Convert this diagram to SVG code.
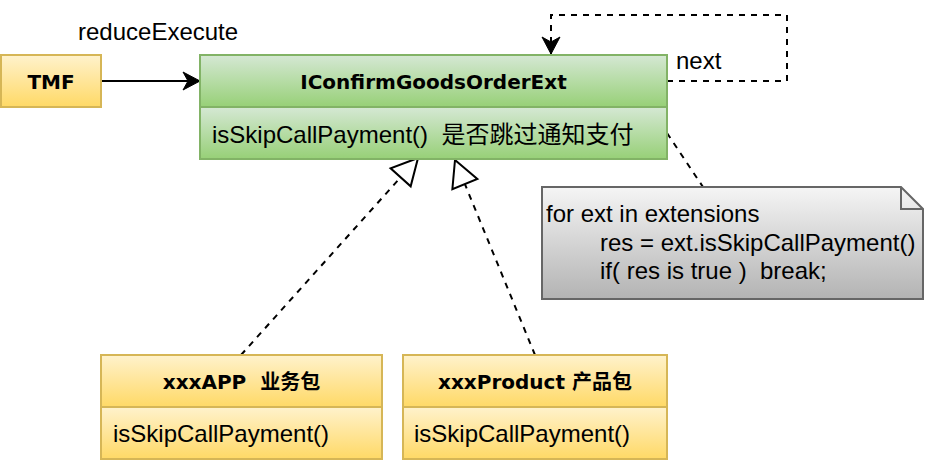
<svg xmlns="http://www.w3.org/2000/svg" width="926" height="466" viewBox="0 0 926 466">
<defs>
<linearGradient id="gGreen" x1="0" y1="0" x2="0" y2="1"><stop offset="0" stop-color="#d5e8d4"/><stop offset="1" stop-color="#97d077"/></linearGradient>
<linearGradient id="gYellow" x1="0" y1="0" x2="0" y2="1"><stop offset="0" stop-color="#fff2cc"/><stop offset="1" stop-color="#ffd966"/></linearGradient>
<linearGradient id="gGray" x1="0" y1="0" x2="0" y2="1"><stop offset="0" stop-color="#f5f5f5"/><stop offset="1" stop-color="#b3b3b3"/></linearGradient>
<marker id="arrow" markerUnits="userSpaceOnUse" viewBox="-18 -10 20 20" markerWidth="20" markerHeight="20" refX="0" refY="0" orient="auto" overflow="visible">
<path d="M0,0 L-17,-9 L-12,0 L-17,9 Z" fill="#000" stroke="#000" stroke-width="1"/>
</marker>
<marker id="tri" markerUnits="userSpaceOnUse" viewBox="-28 -15 30 30" markerWidth="30" markerHeight="30" refX="0" refY="0" orient="auto" overflow="visible">
<path d="M0,0 L-26,-13.5 L-26,13.5 Z" fill="#fff" stroke="#000" stroke-width="2"/>
</marker>
</defs>
<style>
.green{fill:url(#gGreen);stroke:#82b366;stroke-width:2}
.yellow{fill:url(#gYellow);stroke:#d6b656;stroke-width:2}
.note{fill:url(#gGray);stroke:#666666;stroke-width:2}
.b{font-family:"DejaVu Sans","Noto Sans CJK SC",sans-serif;font-weight:bold;font-size:20px;fill:#000;text-anchor:middle}
.t{font-family:"Liberation Sans","Noto Sans CJK SC",sans-serif;font-size:24px;fill:#000}
.line{fill:none;stroke:#000;stroke-width:2}
.dash{stroke-dasharray:6 6}
</style>

<g id="connectors">
<path class="line" d="M101,81 H200" marker-end="url(#arrow)"/>
<path class="line dash" d="M667,81 H787 V15 H551 V54" marker-end="url(#arrow)"/>
<path class="line dash" d="M241,355 L418,158" marker-end="url(#tri)"/>
<path class="line dash" d="M535,355 L455,160" marker-end="url(#tri)"/>
<path class="line dash" d="M667,133 L703,187"/>
<text class="t" x="78" y="40">reduceExecute</text>
<text class="t" x="676" y="69">next</text>
</g>

<g id="tmf">
<rect class="yellow" x="1" y="55" width="100" height="52"/>
<text class="b" x="51" y="89">TMF</text>
</g>

<g id="iconfirm">
<rect class="green" x="200" y="55" width="467" height="52"/>
<rect class="green" x="200" y="107" width="467" height="52"/>
<text class="b" x="433.5" y="89">IConfirmGoodsOrderExt</text>
<text class="t" x="212" y="143" xml:space="preserve">isSkipCallPayment()  是否跳过通知支付</text>
</g>

<g id="note">
<path class="note" d="M542,187 H901 L923,209 V299 H542 Z"/>
<path d="M901,187 V209 H923" fill="none" stroke="#666666" stroke-width="2"/>
<text class="t" x="546" y="222">for ext in extensions</text>
<text class="t" x="600" y="250.5">res = ext.isSkipCallPayment()</text>
<text class="t" x="600" y="279" xml:space="preserve">if( res is true )  break;</text>
</g>

<g id="xxxapp">
<rect class="yellow" x="101" y="355" width="281" height="52"/>
<rect class="yellow" x="101" y="407" width="281" height="52"/>
<text class="b" x="241.5" y="389" xml:space="preserve">xxxAPP  业务包</text>
<text class="t" x="113" y="442">isSkipCallPayment()</text>
</g>

<g id="xxxproduct">
<rect class="yellow" x="403" y="355" width="264" height="52"/>
<rect class="yellow" x="403" y="407" width="264" height="52"/>
<text class="b" x="535" y="389">xxxProduct 产品包</text>
<text class="t" x="414" y="442">isSkipCallPayment()</text>
</g>
</svg>
